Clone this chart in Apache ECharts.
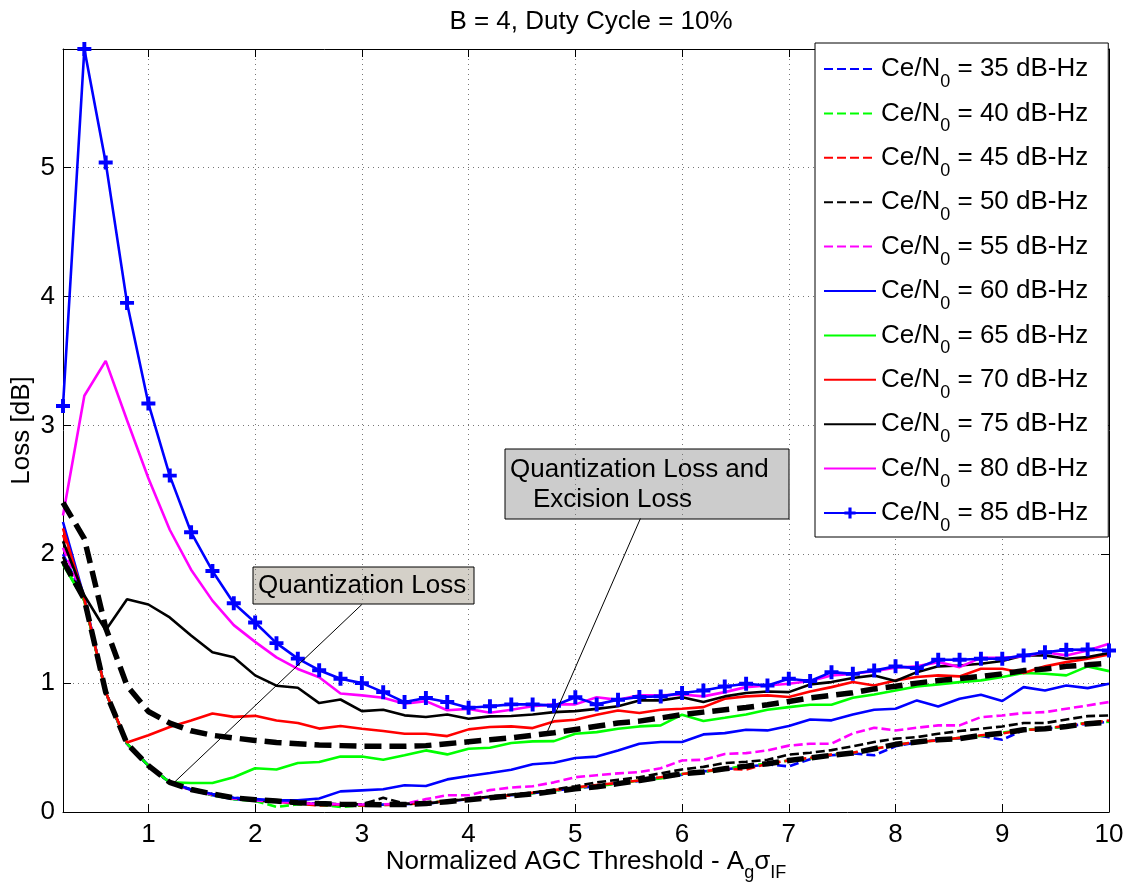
<!DOCTYPE html>
<html>
<head>
<meta charset="utf-8">
<script src="https://cdn.jsdelivr.net/npm/echarts@6.0.0/dist/echarts.min.js"></script>
<style>
html, body { margin: 0; padding: 0; background: #fff; }
#chart { width: 1128px; height: 886px; }
</style>
</head>
<body>
<div id="chart"></div>
<script>
// normalized AGC threshold (x axis)
var thresholds = [0.2, 0.4, 0.6, 0.8, 1.0, 1.2, 1.4, 1.6, 1.8, 2.0,
                  2.2, 2.4, 2.6, 2.8, 3.0, 3.2, 3.4, 3.6, 3.8, 4.0,
                  4.2, 4.4, 4.6, 4.8, 5.0, 5.2, 5.4, 5.6, 5.8, 6.0,
                  6.2, 6.4, 6.6, 6.8, 7.0, 7.2, 7.4, 7.6, 7.8, 8.0,
                  8.2, 8.4, 8.6, 8.8, 9.0, 9.2, 9.4, 9.6, 9.8, 10.0];
var xTicks = [1, 2, 3, 4, 5, 6, 7, 8, 9, 10];

// loss [dB] per Ce/N0
var loss35 = [2.0, 1.66, 0.93, 0.53, 0.36, 0.23, 0.17, 0.13, 0.10, 0.09,
              0.08, 0.07, 0.065, 0.06, 0.058, 0.057, 0.06, 0.065, 0.08, 0.10,
              0.115, 0.13, 0.145, 0.165, 0.185, 0.2, 0.225, 0.24, 0.265, 0.29,
              0.315, 0.33, 0.35, 0.37, 0.354, 0.41, 0.44, 0.455, 0.44, 0.51,
              0.54, 0.56, 0.57, 0.59, 0.561, 0.635, 0.645, 0.665, 0.685, 0.70];
var loss40 = [1.93, 1.64, 0.93, 0.53, 0.36, 0.23, 0.17, 0.13, 0.10, 0.085,
              0.04, 0.06, 0.055, 0.04, 0.05, 0.055, 0.06, 0.07, 0.085, 0.10,
              0.115, 0.13, 0.145, 0.165, 0.19, 0.2, 0.22, 0.245, 0.26, 0.295,
              0.31, 0.335, 0.36, 0.375, 0.40, 0.415, 0.445, 0.46, 0.49, 0.52,
              0.545, 0.555, 0.575, 0.59, 0.615, 0.64, 0.645, 0.665, 0.695, 0.70];
var loss45 = [2.15, 1.65, 0.93, 0.53, 0.36, 0.23, 0.17, 0.135, 0.105, 0.09,
              0.08, 0.065, 0.05, 0.06, 0.05, 0.055, 0.06, 0.07, 0.085, 0.10,
              0.115, 0.13, 0.15, 0.17, 0.19, 0.21, 0.225, 0.245, 0.27, 0.295,
              0.315, 0.335, 0.33, 0.375, 0.40, 0.42, 0.445, 0.46, 0.49, 0.52,
              0.545, 0.555, 0.575, 0.595, 0.61, 0.635, 0.645, 0.67, 0.69, 0.71];
var loss50 = [1.98, 1.64, 0.93, 0.53, 0.36, 0.23, 0.175, 0.14, 0.11, 0.095,
              0.085, 0.072, 0.065, 0.06, 0.06, 0.11, 0.065, 0.065, 0.085, 0.10,
              0.12, 0.135, 0.15, 0.175, 0.2, 0.23, 0.25, 0.27, 0.30, 0.33,
              0.35, 0.38, 0.39, 0.405, 0.445, 0.46, 0.48, 0.51, 0.543, 0.569,
              0.581, 0.607, 0.628, 0.646, 0.664, 0.69, 0.69, 0.718, 0.744, 0.749];
var loss55 = [2.05, 1.65, 0.93, 0.53, 0.36, 0.23, 0.17, 0.135, 0.105, 0.09,
              0.08, 0.07, 0.062, 0.06, 0.058, 0.06, 0.062, 0.10, 0.13, 0.13,
              0.17, 0.19, 0.20, 0.23, 0.27, 0.285, 0.30, 0.31, 0.34, 0.40,
              0.405, 0.45, 0.457, 0.478, 0.515, 0.53, 0.53, 0.61, 0.654, 0.633,
              0.654, 0.672, 0.672, 0.736, 0.749, 0.768, 0.775, 0.801, 0.827, 0.853];
var loss60 = [2.25, 1.66, 0.93, 0.53, 0.36, 0.23, 0.175, 0.14, 0.11, 0.10,
              0.09, 0.09, 0.105, 0.16, 0.168, 0.176, 0.207, 0.202, 0.253, 0.279,
              0.302, 0.328, 0.37, 0.382, 0.419, 0.43, 0.478, 0.53, 0.543, 0.543,
              0.602, 0.612, 0.638, 0.633, 0.667, 0.718, 0.711, 0.757, 0.793, 0.801,
              0.866, 0.819, 0.879, 0.91, 0.861, 0.969, 0.943, 0.982, 0.961, 0.995];
var loss65 = [1.92, 1.64, 0.93, 0.53, 0.36, 0.23, 0.225, 0.225, 0.27, 0.34,
              0.33, 0.38, 0.388, 0.43, 0.43, 0.406, 0.44, 0.478, 0.447, 0.491,
              0.499, 0.535, 0.548, 0.55, 0.607, 0.62, 0.646, 0.664, 0.672, 0.755,
              0.706, 0.731, 0.757, 0.793, 0.814, 0.832, 0.832, 0.886, 0.912, 0.943,
              0.974, 0.99, 1.008, 1.021, 1.047, 1.078, 1.073, 1.06, 1.13, 1.093];
var loss70 = [2.2, 1.65, 0.93, 0.54, 0.596, 0.66, 0.71, 0.764, 0.738, 0.746,
              0.71, 0.69, 0.647, 0.667, 0.646, 0.628, 0.607, 0.607, 0.589, 0.641,
              0.659, 0.664, 0.651, 0.703, 0.716, 0.755, 0.788, 0.768, 0.793, 0.801,
              0.814, 0.879, 0.897, 0.905, 0.892, 0.935, 0.969, 1.008, 0.982, 1.021,
              1.047, 1.06, 1.052, 1.111, 1.111, 1.078, 1.13, 1.163, 1.189, 1.222];
var loss75 = [2.1, 1.68, 1.41, 1.65, 1.61, 1.51, 1.37, 1.24, 1.20, 1.06,
              0.98, 0.964, 0.845, 0.873, 0.783, 0.793, 0.75, 0.737, 0.757, 0.724,
              0.742, 0.745, 0.757, 0.775, 0.783, 0.80, 0.82, 0.866, 0.866, 0.89,
              0.853, 0.897, 0.923, 0.935, 0.93, 0.99, 1.008, 1.04, 1.06, 1.016,
              1.085, 1.13, 1.137, 1.15, 1.171, 1.215, 1.215, 1.189, 1.202, 1.233];
var loss80 = [2.3, 3.23, 3.50, 3.04, 2.59, 2.19, 1.88, 1.64, 1.45, 1.32,
              1.20, 1.11, 1.046, 0.92, 0.905, 0.886, 0.84, 0.86, 0.79, 0.80,
              0.77, 0.794, 0.82, 0.835, 0.835, 0.89, 0.87, 0.905, 0.905, 0.912,
              0.897, 0.93, 0.969, 0.982, 0.995, 1.016, 1.06, 1.072, 1.093, 1.119,
              1.13, 1.163, 1.124, 1.196, 1.196, 1.207, 1.24, 1.215, 1.253, 1.305];
var loss85 = [3.15, 5.92, 5.04, 3.95, 3.17, 2.61, 2.17, 1.87, 1.62, 1.47,
              1.31, 1.19, 1.10, 1.034, 1.0, 0.93, 0.853, 0.884, 0.853, 0.809,
              0.82, 0.835, 0.835, 0.825, 0.89, 0.835, 0.871, 0.892, 0.897, 0.923,
              0.943, 0.974, 0.995, 0.982, 1.034, 1.016, 1.085, 1.072, 1.098, 1.13,
              1.116, 1.181, 1.181, 1.189, 1.189, 1.215, 1.24, 1.258, 1.261, 1.253];

// reference curves (thick dashed)
var quantLoss = [1.95, 1.65, 0.93, 0.53, 0.36, 0.23, 0.175, 0.14, 0.11, 0.095,
                 0.085, 0.072, 0.065, 0.06, 0.058, 0.057, 0.058, 0.065, 0.08, 0.095,
                 0.11, 0.125, 0.14, 0.16, 0.18, 0.195, 0.22, 0.245, 0.27, 0.297,
                 0.31, 0.336, 0.355, 0.375, 0.40, 0.42, 0.44, 0.457, 0.491, 0.525,
                 0.543, 0.561, 0.569, 0.594, 0.612, 0.638, 0.646, 0.664, 0.685, 0.698];
var quantExcLoss = [2.4, 2.12, 1.43, 0.98, 0.78, 0.69, 0.63, 0.595, 0.575, 0.555,
                    0.54, 0.53, 0.52, 0.515, 0.51, 0.51, 0.51, 0.515, 0.53, 0.545,
                    0.56, 0.575, 0.595, 0.615, 0.64, 0.665, 0.69, 0.705, 0.73, 0.755,
                    0.775, 0.793, 0.811, 0.832, 0.858, 0.885, 0.905, 0.925, 0.955, 0.975,
                    1.0, 1.02, 1.035, 1.052, 1.072, 1.097, 1.11, 1.13, 1.142, 1.155];

// annotation pointers [x, loss]
var qlPointer = [[3.0, 1.61], [1.23, 0.22]];
var qelPointer = [[5.61, 2.277], [4.73, 0.608]];

var names = ['Ce/N0 = 35 dB-Hz', 'Ce/N0 = 40 dB-Hz', 'Ce/N0 = 45 dB-Hz', 'Ce/N0 = 50 dB-Hz',
             'Ce/N0 = 55 dB-Hz', 'Ce/N0 = 60 dB-Hz', 'Ce/N0 = 65 dB-Hz', 'Ce/N0 = 70 dB-Hz',
             'Ce/N0 = 75 dB-Hz', 'Ce/N0 = 80 dB-Hz', 'Ce/N0 = 85 dB-Hz'];
var lossSets = [loss35, loss40, loss45, loss50, loss55, loss60, loss65, loss70, loss75, loss80, loss85];
var colors = ['#0000ff', '#00ff00', '#ff0000', '#000000', '#ff00ff',
              '#0000ff', '#00ff00', '#ff0000', '#000000', '#ff00ff', '#0000ff'];

var FONT = 'Liberation Sans, Arial, Helvetica, sans-serif';
var plusPath = 'path://M3.6,0 H6.4 V3.6 H10 V6.4 H6.4 V10 H3.6 V6.4 H0 V3.6 H3.6 Z';

function pairs(ys) {
	return thresholds.map(function (x, i) { return [x, ys[i]]; });
}

var series = [];
var legendData = [];
for (var i = 0; i < names.length; i++) {
	var isPlus = (i == 10);
	series.push({
		name: names[i],
		type: 'line',
		data: pairs(lossSets[i]),
		color: colors[i],
		symbol: isPlus ? plusPath : 'none',
		symbolSize: 14,
		showSymbol: isPlus,
		lineStyle: {
			color: colors[i],
			width: 2.6,
			type: i < 5 ? [9, 4] : 'solid'
		},
		itemStyle: { color: colors[i] },
		silent: true,
		z: 2
	});
	// line-only legend icon except for the '+' series
	legendData.push(isPlus ? { name: names[i] } : { name: names[i], itemStyle: { opacity: 0 } });
}
// thick dashed reference curves
[quantLoss, quantExcLoss].forEach(function (d, k) {
	series.push({
		name: k == 0 ? 'quant' : 'quantExc',
		type: 'line',
		data: pairs(d),
		symbol: 'none',
		lineStyle: { color: '#000', width: 5.5, type: [17, 8] },
		silent: true,
		z: 3
	});
});
// annotation pointer lines
[qlPointer, qelPointer].forEach(function (d, k) {
	series.push({
		name: 'ptr' + k,
		type: 'line',
		data: d,
		symbol: 'none',
		lineStyle: { color: '#000', width: 1 },
		silent: true,
		z: 4
	});
});

var subRich = {
	s: { fontSize: 18, fontFamily: FONT, color: '#000', verticalAlign: 'bottom' }
};

var option = {
	animation: false,
	backgroundColor: '#fff',
	title: {
		text: 'B = 4, Duty Cycle = 10%',
		left: 586,
		top: 4,
		textAlign: 'center',
		textStyle: { fontFamily: FONT, fontSize: 26, fontWeight: 'normal', color: '#000' }
	},
	grid: { left: 63, right: 19, top: 49, bottom: 74, containLabel: false, outerBoundsMode: 'none' },
	legend: {
		orient: 'vertical',
		left: 815,
		top: 43,
		data: legendData,
		itemWidth: 52,
		itemHeight: 14,
		itemGap: 0.4,
		padding: [4, 20, 2, 8],
		backgroundColor: '#fff',
		borderColor: '#000',
		borderWidth: 1,
		borderRadius: 0,
		selectedMode: false,
		formatter: function (name) { return name.replace('N0', 'N{s|0}'); },
		textStyle: { fontFamily: FONT, fontSize: 26, color: '#000', lineHeight: 44, rich: subRich },
		z: 10
	},
	xAxis: [{
		type: 'value',
		min: 0.2,
		max: 10,
		position: 'bottom',
		name: 'Normalized AGC Threshold - A{s|g}σ{s|IF}',
		nameLocation: 'middle',
		nameGap: 30,
		nameMoveOverlap: false,
		nameTextStyle: { fontFamily: FONT, fontSize: 26, color: '#000', lineHeight: 40, rich: subRich },
		axisLine: { show: true, onZero: false, lineStyle: { color: '#000', width: 1 } },
		axisTick: { show: true, inside: true, length: 8, customValues: xTicks, lineStyle: { color: '#000' } },
		axisLabel: { customValues: xTicks, fontFamily: FONT, fontSize: 26, color: '#000', margin: 10 },
		splitLine: { show: true, lineStyle: { color: '#777', width: 1, type: [1, 4] } }
	}, {
		type: 'value',
		min: 0.2,
		max: 10,
		position: 'top',
		axisLine: { show: true, onZero: false, lineStyle: { color: '#000', width: 1 } },
		axisTick: { show: true, inside: true, length: 8, customValues: xTicks, lineStyle: { color: '#000' } },
		axisLabel: { show: false },
		splitLine: { show: false }
	}],
	yAxis: [{
		type: 'value',
		min: 0,
		max: 5.92,
		interval: 1,
		position: 'left',
		name: 'Loss [dB]',
		nameLocation: 'middle',
		nameGap: 28,
		nameMoveOverlap: false,
		nameTextStyle: { fontFamily: FONT, fontSize: 26, color: '#000' },
		axisLine: { show: true, onZero: false, lineStyle: { color: '#000', width: 1 } },
		axisTick: { show: true, inside: true, length: 8, lineStyle: { color: '#000' } },
		axisLabel: { showMaxLabel: false, fontFamily: FONT, fontSize: 26, color: '#000', margin: 8 },
		splitLine: { show: true, lineStyle: { color: '#777', width: 1, type: [1, 4] } }
	}, {
		type: 'value',
		min: 0,
		max: 5.92,
		interval: 1,
		position: 'right',
		axisLine: { show: true, onZero: false, lineStyle: { color: '#000', width: 1 } },
		axisTick: { show: true, inside: true, length: 8, lineStyle: { color: '#000' } },
		axisLabel: { show: false },
		splitLine: { show: false }
	}],
	graphic: [{
		type: 'group',
		z: 20,
		children: [{
			type: 'rect',
			shape: { x: 253, y: 567, width: 221, height: 37 },
			style: { fill: '#d4d0c8', stroke: '#000', lineWidth: 1 }
		}, {
			type: 'text',
			x: 258, y: 586,
			style: { text: 'Quantization Loss', font: '26px ' + FONT, fill: '#000', verticalAlign: 'middle' }
		}, {
			type: 'rect',
			shape: { x: 505, y: 449, width: 284, height: 70 },
			style: { fill: '#cccccc', stroke: '#000', lineWidth: 1 }
		}, {
			type: 'text',
			x: 510, y: 470,
			style: { text: 'Quantization Loss and', font: '26px ' + FONT, fill: '#000', verticalAlign: 'middle' }
		}, {
			type: 'text',
			x: 533, y: 500,
			style: { text: 'Excision Loss', font: '26px ' + FONT, fill: '#000', verticalAlign: 'middle' }
		}]
	}],
	series: series
};

var chart = echarts.init(document.getElementById('chart'));
chart.setOption(option);
</script>
</body>
</html>
